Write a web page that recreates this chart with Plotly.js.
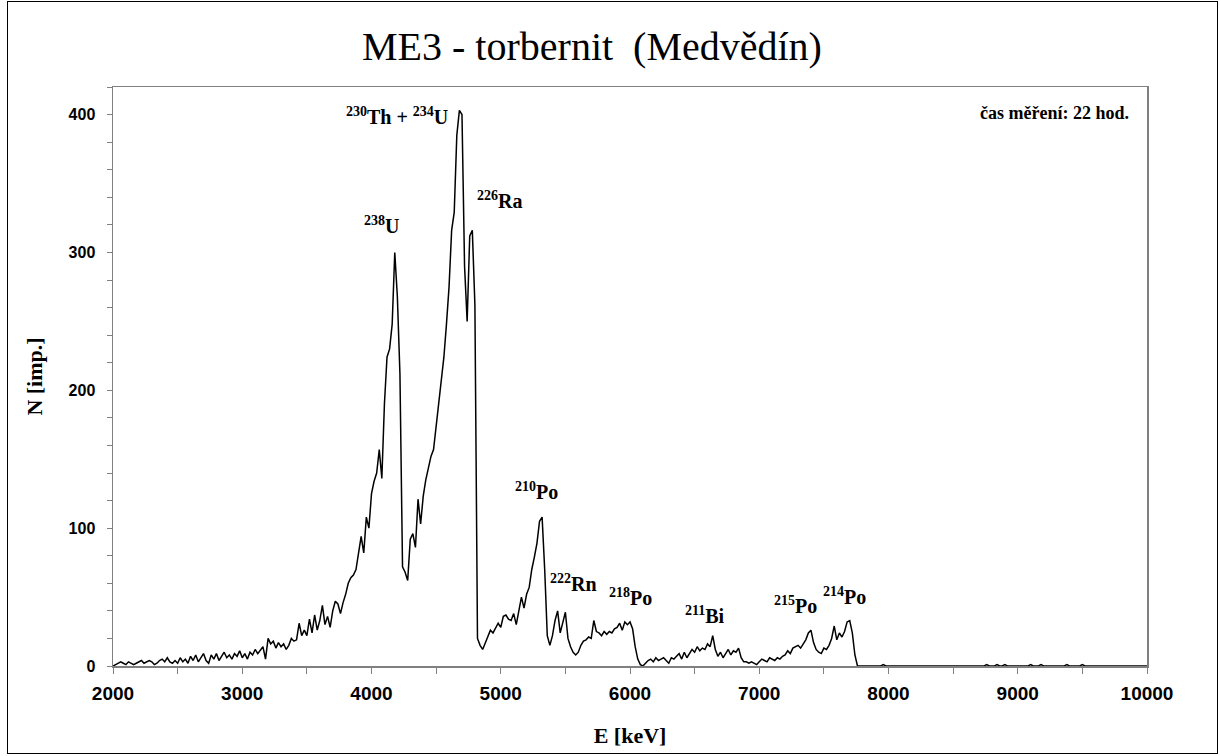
<!DOCTYPE html>
<html>
<head>
<meta charset="utf-8">
<script src="https://cdn.plot.ly/plotly-3.0.1.min.js"></script>
<style>
  html, body { margin: 0; padding: 0; background: #fff; }
  #wrap { position: relative; width: 1220px; height: 756px; }
  #chart { position: absolute; left: 0; top: 0; width: 1220px; height: 756px; }
  #frame { position: absolute; left: 7px; top: 1px; width: 1209px; height: 751px;
           border: 1.5px solid #000; pointer-events: none; }
</style>
</head>
<body>
<div id="wrap">
  <div id="chart"></div>
  <div id="frame"></div>
</div>
<script>
// Energy calibration of the channels (keV): first channel and channel width
const energyStart = 2000;
const energyStep = 20;

// Counts per channel, N [imp.], 2000 keV ... 10000 keV
const counts = [
  0,1,2,3,2,1,3,2,1,2,
  3,4,2,3,4,3,1,2,4,5,
  3,6,3,2,4,2,6,3,5,2,
  7,4,8,3,6,9,4,2,8,5,
  9,4,7,10,6,8,5,9,7,11,
  6,9,5,10,8,12,9,12,14,5,
  20,16,18,13,17,14,16,12,15,20,
  18,19,31,22,26,22,34,24,37,26,
  33,44,30,36,28,40,47,45,38,46,
  52,60,64,66,70,82,94,82,108,100,
  125,134,140,157,136,190,224,230,248,300,
  268,212,72,68,62,92,96,86,121,103,
  123,135,144,152,157,174,188,207,224,248,
  275,316,329,385,403,400,290,250,312,316,
  262,20,15,12,17,21,26,24,27,31,
  28,36,37,34,33,38,30,40,50,42,
  52,57,70,79,89,105,108,70,22,15,
  22,33,40,24,31,39,20,14,10,8,
  10,15,18,19,21,20,33,25,24,22,
  25,23,25,24,27,28,31,26,32,30,
  32,27,14,5,1,0,2,4,5,3,
  6,4,5,6,4,2,6,5,7,9,
  5,10,6,9,12,10,14,11,13,12,
  16,14,22,12,7,10,6,9,12,8,
  11,10,13,6,3,3,2,3,2,1,
  3,5,4,3,6,5,4,6,5,7,
  8,11,9,13,14,15,13,16,19,24,
  26,17,12,10,9,13,12,15,20,29,
  19,24,21,25,32,33,24,8,0,0,
  0,0,0,0,0,0,0,0,1,0,
  0,0,0,0,0,0,0,0,0,0,
  0,0,0,0,0,0,0,0,0,0,
  0,0,0,0,0,0,0,0,0,0,
  0,0,0,0,0,0,0,0,1,0,
  0,0,1,0,0,1,0,0,0,0,
  0,0,0,0,0,1,0,0,0,1,
  0,0,0,0,0,0,0,0,0,1,
  0,0,0,0,0,1,0,0,0,0,
  0,0,0,0,0,0,0,0,0,0,
  0,0,0,0,0,0,0,0,0,0,
  0
];

// Peak labels
const peakLabels = [
  '<sup>238</sup>U',
  '<sup>230</sup>Th + <sup>234</sup>U',
  '<sup>226</sup>Ra',
  '<sup>210</sup>Po',
  '<sup>222</sup>Rn',
  '<sup>218</sup>Po',
  '<sup>211</sup>Bi',
  '<sup>215</sup>Po',
  '<sup>214</sup>Po'
];
const peakLabelE = [4074, 4197, 4987, 5280, 5559, 6000, 6580, 7277, 7656];
const peakLabelN = [320, 399, 338, 127, 60, 50, 37, 44, 51];

const titleText = 'ME3 - torbernit&nbsp; (Medvědín)';
const noteText = 'čas měření: 22 hod.';
const xTitle = 'E [keV]';
const yTitle = 'N [imp.]';

const serif = '"Liberation Serif", "Times New Roman", serif';
const sans = '"Liberation Sans", Arial, sans-serif';

const trace = {
  type: 'scatter',
  mode: 'lines',
  x0: energyStart,
  dx: energyStep,
  y: counts,
  line: { color: '#000000', width: 1.5 },
  hoverinfo: 'x+y'
};

const annotations = peakLabels.map((t, i) => ({
  x: peakLabelE[i], y: peakLabelN[i], xref: 'x', yref: 'y',
  text: t, showarrow: false, xanchor: 'center', yanchor: 'middle',
  font: { family: serif, size: 20, color: '#000', weight: 'bold' }
}));
annotations.push({
  x: 9876, y: 401, xref: 'x', yref: 'y', text: noteText, showarrow: false,
  xanchor: 'right', yanchor: 'middle',
  font: { family: serif, size: 18, color: '#000', weight: 'bold' }
});

const layout = {
  width: 1220, height: 756,
  margin: { l: 113, r: 73, t: 87, b: 90 },
  paper_bgcolor: '#ffffff', plot_bgcolor: '#ffffff',
  showlegend: false,
  title: {
    text: titleText, x: 592 / 1220, xref: 'container', xanchor: 'center',
    y: 1 - 46 / 756, yref: 'container', yanchor: 'middle',
    font: { family: serif, size: 40, color: '#000' }
  },
  xaxis: {
    range: [2000, 10000], dtick: 1000, tick0: 0, tickformat: 'd',
    ticks: 'outside', ticklen: 6, tickwidth: 1, tickcolor: '#808080',
    minor: { dtick: 500, ticks: 'outside', ticklen: 6, tickcolor: '#808080', showgrid: false },
    showline: true, linecolor: '#808080', linewidth: 1.5, mirror: true,
    showgrid: false, zeroline: false,
    tickfont: { family: sans, size: 19, color: '#000', weight: 'bold' },
    ticklabelstandoff: 4,
    title: { text: xTitle, standoff: 24, font: { family: serif, size: 22, color: '#000', weight: 'bold' } }
  },
  yaxis: {
    range: [0, 420], tickvals: [0, 100, 200, 300, 400], tickformat: 'd',
    ticks: 'outside', ticklen: 5, tickwidth: 1, tickcolor: '#808080',
    minor: { dtick: 20, ticks: 'outside', ticklen: 5, tickcolor: '#808080', showgrid: false },
    showline: true, linecolor: '#808080', linewidth: 1.5, mirror: true,
    showgrid: false, zeroline: false,
    tickfont: { family: sans, size: 16, color: '#000', weight: 'bold' },
    ticklabelstandoff: 8,
    title: { text: yTitle, standoff: 20, font: { family: serif, size: 22, color: '#000', weight: 'bold' } }
  },
  annotations: annotations
};

Plotly.newPlot('chart', [trace], layout, { staticPlot: true, displayModeBar: false });
</script>
</body>
</html>
